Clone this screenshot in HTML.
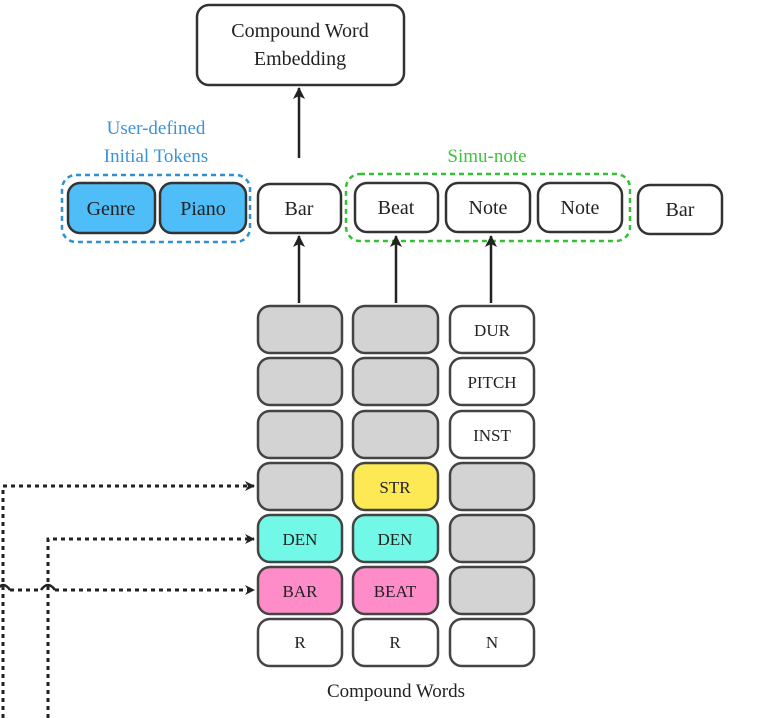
<!DOCTYPE html>
<html><head><meta charset="utf-8"><style>html,body{margin:0;padding:0;background:#fff}svg{display:block}</style></head>
<body>
<svg width="782" height="718" viewBox="0 0 782 718" xmlns="http://www.w3.org/2000/svg" font-family="Liberation Serif, serif">
<defs>
<marker id="a" markerWidth="10" markerHeight="10" refX="9" refY="5" orient="auto" markerUnits="userSpaceOnUse"><path d="M0,0 L10,5 L0,10 L3,5 z" fill="#222"/></marker>
<marker id="b" markerWidth="12" markerHeight="12" refX="11" refY="6" orient="auto" markerUnits="userSpaceOnUse"><path d="M0,0 L12,6 L0,12 L3,6 z" fill="#222"/></marker>
</defs>
<g stroke="#333" stroke-width="2.5">
<rect x="197" y="5" width="207" height="80" rx="12" fill="#fff"/>
<rect x="68" y="183" width="87" height="50" rx="12" fill="#4fbdf7"/>
<rect x="160" y="183" width="86" height="50" rx="12" fill="#4fbdf7"/>
<rect x="258" y="184" width="83" height="49" rx="12" fill="#fff"/>
<rect x="355" y="183" width="83" height="49" rx="12" fill="#fff"/>
<rect x="446" y="183" width="84" height="49" rx="12" fill="#fff"/>
<rect x="538" y="183" width="84" height="49" rx="12" fill="#fff"/>
<rect x="638" y="185" width="84" height="49" rx="12" fill="#fff"/>
</g>
<rect x="62" y="175" width="188" height="67" rx="14" fill="none" stroke="#2f8fd0" stroke-width="2.5" stroke-dasharray="5,4"/>
<rect x="346" y="174" width="284" height="67" rx="14" fill="none" stroke="#33c033" stroke-width="2.5" stroke-dasharray="5,4"/>
<g font-size="20" fill="#222" text-anchor="middle">
<text x="300" y="37">Compound Word</text>
<text x="300" y="65">Embedding</text>
<text x="111" y="215">Genre</text>
<text x="203" y="215">Piano</text>
<text x="299" y="215">Bar</text>
<text x="396" y="214">Beat</text>
<text x="488" y="214">Note</text>
<text x="580" y="214">Note</text>
<text x="680" y="216">Bar</text>
</g>
<g font-size="19" text-anchor="middle">
<text x="156" y="134" fill="#3a92d8">User-defined</text>
<text x="156" y="162" fill="#3a92d8">Initial Tokens</text>
<text x="487" y="162" fill="#3cc43c">Simu-note</text>
</g>
<g stroke="#222" stroke-width="2.5" fill="none">
<line x1="299" y1="158" x2="299" y2="88" marker-end="url(#b)"/>
<line x1="299" y1="303" x2="299" y2="236" marker-end="url(#b)"/>
<line x1="396" y1="303" x2="396" y2="236" marker-end="url(#b)"/>
<line x1="491" y1="303" x2="491" y2="236" marker-end="url(#b)"/>
</g>
<g stroke="#444" stroke-width="2.5">
<rect x="258" y="306" width="84" height="47" rx="12" fill="#d3d3d3"/>
<rect x="258" y="358" width="84" height="47" rx="12" fill="#d3d3d3"/>
<rect x="258" y="411" width="84" height="47" rx="12" fill="#d3d3d3"/>
<rect x="258" y="463" width="84" height="47" rx="12" fill="#d3d3d3"/>
<rect x="258" y="515" width="84" height="47" rx="12" fill="#72f8e6"/>
<rect x="258" y="567" width="84" height="47" rx="12" fill="#fd8cc8"/>
<rect x="258" y="619" width="84" height="47" rx="12" fill="#fff"/>
<rect x="353" y="306" width="85" height="47" rx="12" fill="#d3d3d3"/>
<rect x="353" y="358" width="85" height="47" rx="12" fill="#d3d3d3"/>
<rect x="353" y="411" width="85" height="47" rx="12" fill="#d3d3d3"/>
<rect x="353" y="463" width="85" height="47" rx="12" fill="#fde954"/>
<rect x="353" y="515" width="85" height="47" rx="12" fill="#72f8e6"/>
<rect x="353" y="567" width="85" height="47" rx="12" fill="#fd8cc8"/>
<rect x="353" y="619" width="85" height="47" rx="12" fill="#fff"/>
<rect x="450" y="306" width="84" height="47" rx="12" fill="#fff"/>
<rect x="450" y="358" width="84" height="47" rx="12" fill="#fff"/>
<rect x="450" y="411" width="84" height="47" rx="12" fill="#fff"/>
<rect x="450" y="463" width="84" height="47" rx="12" fill="#d3d3d3"/>
<rect x="450" y="515" width="84" height="47" rx="12" fill="#d3d3d3"/>
<rect x="450" y="567" width="84" height="47" rx="12" fill="#d3d3d3"/>
<rect x="450" y="619" width="84" height="47" rx="12" fill="#fff"/>
</g>
<g font-size="17" fill="#222" text-anchor="middle">
<text x="300" y="545">DEN</text>
<text x="300" y="597">BAR</text>
<text x="300" y="648">R</text>
<text x="395" y="493">STR</text>
<text x="395" y="545">DEN</text>
<text x="395" y="597">BEAT</text>
<text x="395" y="648">R</text>
<text x="492" y="336">DUR</text>
<text x="492" y="388">PITCH</text>
<text x="492" y="441">INST</text>
<text x="492" y="648">N</text>
<text x="396" y="697" font-size="19">Compound Words</text>
</g>
<g stroke="#222" stroke-width="3" fill="none" stroke-dasharray="4,4">
<path d="M3,718 L3,486 L254,486" marker-end="url(#a)"/>
<path d="M48,718 L48,539 L254,539" marker-end="url(#a)"/>
<path d="M-4,590 L-3,590" />
<path d="M10,590 L41,590 M55,590 L254,590" marker-end="url(#a)"/>
</g>
<g stroke="#222" stroke-width="2.5" fill="none">
<path d="M-3,590 Q3,580 10,590"/>
<path d="M41,590 Q48,580 55,590"/>
</g>
</svg>
</body></html>
